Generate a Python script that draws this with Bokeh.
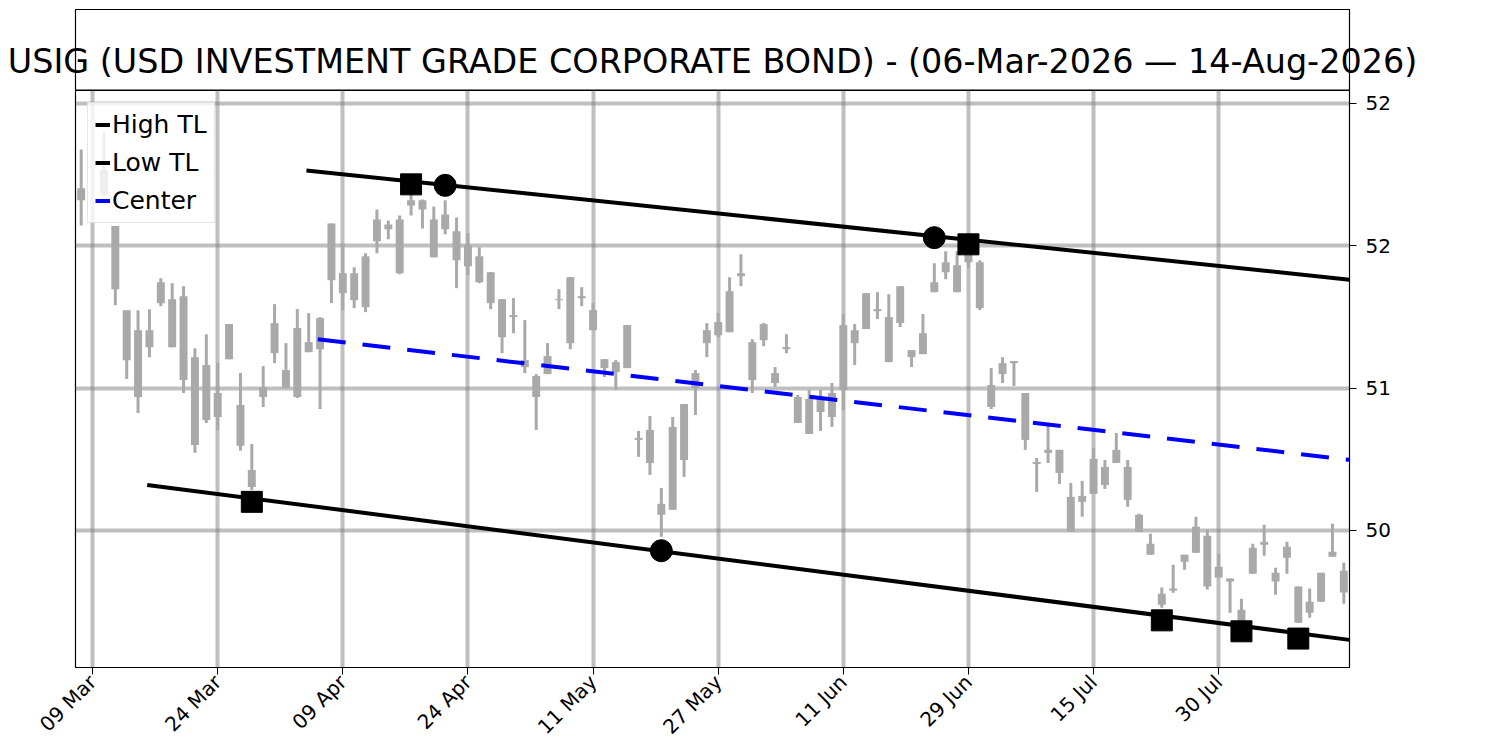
import math
from bokeh.plotting import figure
from bokeh.models import Range1d, FixedTicker, Label, Legend, LegendItem, ColumnDataSource
from bokeh.embed import file_html
from bokeh.resources import INLINE

NAN = float("nan")

title_text = "USIG (USD INVESTMENT GRADE CORPORATE BOND) - (06-Mar-2026 \u2014 14-Aug-2026)"

# OHLC per trading day (index 0 = 06-Mar-2026)
opens = [52.402, NAN, 52.535, 52.137, 51.547, 51.406, 51.406, 51.743, 51.624, 51.645,
         51.217, 51.161, 50.965, 51.449, 50.881, 50.425, 51.007, 51.456, 51.126, 51.421,
         51.322, 51.491, 52.156, 51.806, 51.806, 51.925, 52.184, 52.149, 52.184, 52.318,
         52.318, 52.184, 52.219, 52.100, 52.002, 51.925, 51.813, 51.624, 51.512, 51.196,
         51.084, 51.224, 51.624, 51.778, 51.645, 51.547, 51.203, 51.182, 51.442, 50.650,
         50.706, 50.187, 50.727, 50.888, 51.105, 51.406, 51.463, 51.680, 51.806, 51.322,
         51.449, 51.105, 51.287, 50.937, 50.923, 50.937, 50.965, 51.442, 51.406, 51.666,
         51.554, 51.498, 51.715, 51.266, 51.385, 51.743, 51.883, 51.862, 51.967, 51.883,
         51.021, 51.175, 51.189, 50.965, 50.481, 50.566, 50.566, 50.236, 50.243, 50.503,
         50.446, 50.566, 50.446, 50.110, 49.907, 49.556, 49.592, 49.830, 50.026, 49.963,
         49.746, 49.662, 49.444, 49.879, 49.921, 49.704, 49.886, 49.606, 49.500, 49.704,
         49.851, 49.718]
highs = [52.675, NAN, 52.794, 52.137, 51.547, 51.547, 51.554, 51.771, 51.736, 51.715,
         51.280, 51.378, 51.175, 51.449, 51.105, 50.608, 51.154, 51.589, 51.315, 51.554,
         51.526, 51.498, 52.156, 52.016, 51.848, 51.946, 52.254, 52.177, 52.212, 52.373,
         52.324, 52.275, 52.318, 52.198, 52.086, 51.988, 51.813, 51.624, 51.631, 51.477,
         51.098, 51.315, 51.694, 51.778, 51.708, 51.596, 51.203, 51.196, 51.442, 50.699,
         50.804, 50.299, 50.797, 50.888, 51.126, 51.456, 51.526, 51.778, 51.939, 51.343,
         51.456, 51.147, 51.378, 50.951, 50.986, 50.986, 51.035, 51.519, 51.449, 51.666,
         51.673, 51.659, 51.715, 51.266, 51.519, 51.876, 51.960, 51.960, 51.995, 51.897,
         51.140, 51.217, 51.189, 50.965, 50.509, 50.755, 50.566, 50.334, 50.348, 50.580,
         50.495, 50.685, 50.495, 50.117, 49.977, 49.599, 49.760, 49.830, 50.096, 50.005,
         49.837, 49.662, 49.521, 49.907, 50.040, 49.739, 49.921, 49.606, 49.592, 49.704,
         50.047, 49.774]
lows = [52.142, NAN, 52.346, 51.582, 51.063, 50.825, 51.217, 51.575, 51.287, 50.965,
        50.545, 50.755, 50.706, 51.203, 50.559, 50.285, 50.867, 51.175, 51.000, 50.930,
        51.252, 50.853, 51.596, 51.547, 51.561, 51.533, 51.946, 52.044, 51.799, 52.212,
        52.121, 51.918, 52.079, 51.701, 51.792, 51.736, 51.554, 51.245, 51.385, 51.105,
        50.706, 51.098, 51.554, 51.273, 51.575, 51.406, 51.077, 50.986, 51.140, 50.517,
        50.390, 49.956, 50.145, 50.376, 50.811, 51.217, 51.357, 51.392, 51.715, 50.965,
        51.294, 51.007, 51.245, 50.755, 50.678, 50.699, 50.727, 50.846, 51.161, 51.414,
        51.484, 51.182, 51.428, 51.147, 51.238, 51.673, 51.764, 51.673, 51.841, 51.547,
        50.853, 51.035, 51.014, 50.566, 50.271, 50.474, 50.327, 49.991, 50.096, 50.257,
        50.292, 50.474, 50.166, 49.991, 49.830, 49.458, 49.563, 49.725, 49.844, 49.585,
        49.669, 49.423, 49.360, 49.697, 49.823, 49.549, 49.697, 49.353, 49.388, 49.500,
        49.816, 49.486]
closes = [52.318, NAN, 52.360, 51.694, 51.196, 50.937, 51.287, 51.596, 51.287, 51.056,
          50.601, 50.776, 50.797, 51.203, 50.594, 50.306, 50.937, 51.245, 51.000, 50.937,
          51.252, 51.273, 51.757, 51.666, 51.617, 51.568, 52.030, 52.114, 51.806, 52.282,
          52.254, 51.918, 52.114, 51.897, 51.855, 51.743, 51.596, 51.357, 51.498, 51.147,
          50.937, 51.098, 51.617, 51.315, 51.631, 51.406, 51.140, 51.112, 51.140, 50.636,
          50.474, 50.110, 50.145, 50.495, 51.000, 51.315, 51.371, 51.392, 51.785, 51.056,
          51.336, 51.035, 51.273, 50.755, 50.678, 50.832, 50.797, 50.986, 51.315, 51.414,
          51.540, 51.182, 51.456, 51.217, 51.238, 51.673, 51.813, 51.673, 51.883, 51.561,
          50.867, 51.098, 51.175, 50.636, 50.467, 50.545, 50.404, 49.991, 50.201, 50.257,
          50.320, 50.474, 50.215, 49.991, 49.830, 49.479, 49.578, 49.781, 49.844, 49.606,
          49.669, 49.641, 49.360, 49.697, 49.900, 49.641, 49.809, 49.353, 49.423, 49.500,
          49.816, 49.564]
bar_index = list(range(len(opens)))

x_tick_pos = [1, 12, 23, 34, 45, 56, 67, 78, 89, 100]
x_tick_labels = ["09 Mar", "24 Mar", "09 Apr", "24 Apr", "11 May", "27 May",
                 "11 Jun", "29 Jun", "15 Jul", "30 Jul"]
y_tick_pos = [50, 51, 52, 53]
y_tick_labels = ["50", "51", "52", "52"]

# trend lines
high_tl_x = [19.8, 111.5]
high_tl_y = [52.528, 51.761]
low_tl_x = [5.8, 111.5]
low_tl_y = [50.320, 49.232]
center_x = [20.8, 111.5]
center_y = [51.343, 50.496]

# pivot markers
sq_x = [29, 78, 15, 95, 102, 107]
sq_y = [52.430, 52.009, 50.201, 49.369, 49.292, 49.241]
circ_x = [32, 75, 51]
circ_y = [52.423, 52.056, 49.858]

W = 1490
FL, FR = 75, 1349          # frame left / right (pixels)
FONT = "DejaVu Sans"
CANDLE = "#a9a9a9"

# ---------- title box (its own root, pixel-space canvas) ----------
TH = 90
t = figure(width=W, height=TH, x_range=Range1d(0, W), y_range=Range1d(TH, 0),
           toolbar_location=None, output_backend="svg",
           x_axis_location=None, y_axis_location=None,
           min_border_left=0, min_border_right=0,
           min_border_top=0, min_border_bottom=0)
t.grid.visible = False
t.outline_line_color = None
t.quad(left=[FL], right=[FR], top=[9], bottom=[TH - 0.5],
       fill_color=None, line_color="black", line_width=1.2)
t.add_layout(Label(x=(FL + FR) / 2, y=61, text=title_text, text_align="center",
                   text_baseline="alphabetic", text_font=FONT,
                   text_font_size="33.4px", text_color="black"))

# ---------- main chart ----------
p = figure(width=W, height=660, x_range=Range1d(-0.5, 111.5),
           y_range=Range1d(49.038, 53.089), y_axis_location="right",
           toolbar_location=None, output_backend="svg",
           min_border_left=FL, min_border_right=W - FR,
           min_border_top=0, min_border_bottom=82)

p.outline_line_color = "black"
p.outline_line_width = 1.2

tops = [max(o, c) if o == o else NAN for o, c in zip(opens, closes)]
bots = [min(o, c) if o == o else NAN for o, c in zip(opens, closes)]
src = ColumnDataSource(dict(x=bar_index, h=highs, l=lows, top=tops, bot=bots))
p.segment(x0="x", y0="h", x1="x", y1="l", source=src, line_color=CANDLE, line_width=3)
p.vbar(x="x", top="top", bottom="bot", width=0.7, source=src,
       fill_color=CANDLE, line_color=None)

r_high = p.line(high_tl_x, high_tl_y, line_color="black", line_width=4)
r_low = p.line(low_tl_x, low_tl_y, line_color="black", line_width=4)
r_center = p.line(center_x, center_y, line_color="#0000ff", line_width=4,
                  line_dash="28 17")

p.scatter(sq_x, sq_y, marker="square", size=21, fill_color="black", line_color="black")
p.scatter(circ_x, circ_y, marker="circle", size=22, fill_color="black", line_color="black")

# axes
for ax in (p.xaxis[0], p.yaxis[0]):
    ax.axis_line_color = "black"
    ax.major_tick_line_color = "black"
    ax.major_tick_in = 0
    ax.major_tick_out = 7
    ax.minor_tick_line_color = None
    ax.major_label_text_font = FONT
    ax.major_label_text_font_size = "20px"
    ax.major_label_text_color = "black"

p.xaxis.ticker = FixedTicker(ticks=x_tick_pos)
p.xaxis.major_label_overrides = {k: v for k, v in zip(x_tick_pos, x_tick_labels)}
p.xaxis.major_label_orientation = math.pi / 4
p.xaxis.major_label_standoff = 4

p.yaxis.ticker = FixedTicker(ticks=y_tick_pos)
p.yaxis.major_label_overrides = {k: v for k, v in zip(y_tick_pos, y_tick_labels)}
p.yaxis.major_label_standoff = 9

p.grid.grid_line_color = "#808080"
p.grid.grid_line_alpha = 0.5
p.grid.grid_line_width = 4

legend = Legend(items=[LegendItem(label="High TL", renderers=[r_high]),
                       LegendItem(label="Low TL", renderers=[r_low]),
                       LegendItem(label="Center", renderers=[r_center])],
                location="top_left", margin=12, padding=7, spacing=9,
                glyph_width=15, glyph_height=27, label_standoff=2,
                label_text_font=FONT, label_text_font_size="25px",
                label_text_color="black",
                border_line_color="#cccccc", border_line_width=1.5,
                background_fill_color="white", background_fill_alpha=0.8)
p.add_layout(legend)

open("out.html", "w").write(file_html([t, p], INLINE))
